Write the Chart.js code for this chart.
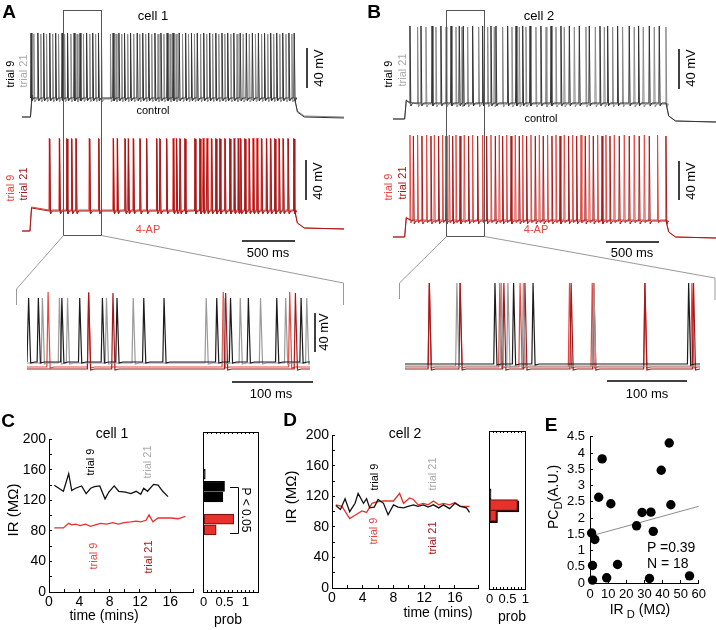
<!DOCTYPE html>
<html>
<head>
<meta charset="utf-8">
<script src="https://cdn.jsdelivr.net/npm/chart.js@4.4.1/dist/chart.umd.min.js"></script>
<style>
html, body { margin: 0; padding: 0; background: #fff; }
#fig { position: relative; width: 716px; height: 630px; overflow: hidden; font-family: "Liberation Sans", Arial, sans-serif; color: #000; }
#fig canvas { position: absolute; }
.t { position: absolute; white-space: nowrap; line-height: 1; transform: translate(-50%, -50%); }
.t.l { transform: translate(0, -50%); }
.t.r { transform: translate(-50%, -50%) rotate(-90deg); }
.t.r2 { transform: translate(-50%, -50%) rotate(90deg); }
sub { font-size: 0.8em; vertical-align: -0.35em; line-height: 0; }
#deco { position: absolute; left: 0; top: 0; }
</style>
</head>
<body>
<div id="fig"></div>
<script>
// spike times (ms) of the full sweeps, panels A and B
const ctrlA_t9 = [85, 150, 205, 262, 318, 378, 430, 492, 548, 610, 668, 722, 860, 915, 968, 1025, 1088, 1140, 1196, 1255, 1312, 1370, 1426, 1484, 1545, 1600, 1655, 1716, 1772, 1830, 1888, 1942, 2000, 2060, 2118, 2175, 2232, 2290, 2348, 2405, 2462, 2520, 2570];
const ctrlA_t21 = [112, 178, 232, 290, 345, 402, 462, 520, 580, 640, 695, 750, 835, 888, 942, 998, 1055, 1112, 1168, 1225, 1284, 1340, 1398, 1455, 1515, 1572, 1628, 1686, 1744, 1800, 1858, 1915, 1972, 2030, 2088, 2146, 2204, 2262, 2320, 2376, 2434, 2492, 2548];
const apA_t9 = [258, 352, 421, 468, 509, 635, 723, 861, 899, 971, 1003, 1050, 1113, 1175, 1270, 1301, 1364, 1427, 1458, 1490, 1537, 1631, 1678, 1710, 1747, 1788, 1829, 1867, 1914, 1961, 2002, 2040, 2062, 2103, 2143, 2181, 2219, 2260, 2307, 2345, 2385, 2426, 2464, 2511, 2565];
const apA_t21 = [262, 355, 425, 470, 512, 640, 726, 864, 902, 975, 1006, 1054, 1116, 1178, 1273, 1305, 1367, 1430, 1462, 1494, 1540, 1634, 1681, 1714, 1750, 1792, 1832, 1870, 1918, 1964, 2006, 2044, 2066, 2106, 2147, 2185, 2222, 2264, 2310, 2349, 2389, 2430, 2468, 2514, 2568];
const ctrlB_t9 = [160, 264, 368, 452, 547, 625, 663, 751, 845, 924, 971, 1081, 1160, 1223, 1292, 1395, 1490, 1584, 1663, 1757, 1851, 1952, 2024, 2118, 2228, 2316, 2417, 2511];
const ctrlB_t21 = [232, 311, 405, 500, 594, 650, 704, 808, 893, 955, 1034, 1122, 1191, 1254, 1348, 1443, 1537, 1615, 1710, 1820, 1908, 1993, 2071, 2165, 2275, 2360, 2464, 2574];
const apB_t9 = [160, 232, 317, 390, 468, 531, 594, 672, 751, 845, 924, 1002, 1072, 1153, 1223, 1301, 1380, 1458, 1537, 1615, 1694, 1773, 1851, 1930, 2008, 2087, 2181, 2275, 2370, 2495];
const apB_t21 = [192, 273, 358, 430, 500, 563, 632, 713, 798, 883, 965, 1034, 1113, 1191, 1260, 1342, 1417, 1499, 1575, 1656, 1732, 1813, 1889, 1971, 2046, 2134, 2228, 2322, 2417, 2574];

// spike times (ms) inside the expanded windows
const zoomA_t9 = [2, 14, 43, 65, 93, 111, 144, 169, 234, 251, 273, 308, 338];
const zoomA_t21 = [19, 40, 50, 98, 131, 221, 243, 263, 288, 319, 345];
const zoomA_ap9 = [26, 76, 242, 324];
const zoomA_ap21 = [76, 106, 245, 331];
const zoomB_t9 = [111, 134, 158, 350];
const zoomB_t21 = [64, 119, 127, 146, 233];
const zoomB_ap9 = [30, 68, 117, 142, 203, 231, 296, 354];
const zoomB_ap21 = [30, 68, 122, 148, 205, 233, 296, 356];

// panel C: input resistance vs time, cell 1
const cTimeCtrl = [0.7, 1.9, 2.6, 3.0, 3.5, 4.3, 4.9, 5.5, 6.0, 6.7, 7.4, 7.9, 8.6, 9.2, 10.1, 10.8, 11.5, 12.1, 12.5, 13.0, 13.8, 14.4, 15.0, 15.7];
const cIRCtrl = [140, 132, 155, 133, 136, 139, 129, 136, 138, 139, 122, 131, 139, 132, 131, 129, 132, 128, 136, 132, 141, 140, 132, 125];
const cTimeAP = [0.7, 1.9, 2.6, 3.0, 3.5, 4.1, 4.8, 5.5, 6.1, 6.8, 7.6, 8.4, 9.2, 9.9, 10.8, 11.5, 12.1, 12.8, 13.2, 13.7, 14.4, 15.2, 16.1, 17.0, 18.0];
const cIRAP = [84, 84, 90, 88, 89, 87, 89, 86, 88, 90, 89, 91, 89, 91, 92, 93, 92, 94, 101, 92, 97, 97, 97, 96, 99];
const cHistCtrlIR = [155, 138, 123];
const cHistCtrlProb = [0.04, 0.5, 0.46];
const cHistAPIR = [92, 77];
const cHistAPProb = [0.72, 0.3];

// panel D: input resistance vs time, cell 2
const dTimeCtrl = [0.5, 1.1, 1.7, 2.3, 3.0, 3.4, 4.1, 4.5, 4.9, 5.5, 6.0, 6.7, 7.3, 8.0, 8.6, 9.3, 9.9, 10.6, 11.2, 11.9, 12.5, 13.2, 13.9, 14.5, 15.3, 16.0, 16.7, 17.5, 17.9];
const dIRCtrl = [108, 103, 117, 100, 111, 124, 111, 117, 105, 106, 116, 111, 96, 109, 106, 105, 107, 109, 107, 109, 106, 109, 105, 109, 104, 111, 107, 105, 99];
const dTimeAP = [0.5, 1.3, 2.3, 3.1, 3.9, 4.5, 5.2, 5.8, 6.7, 7.5, 8.0, 8.8, 9.3, 10.1, 10.6, 11.2, 11.9, 12.5, 13.2, 13.9, 14.5, 15.3, 16.0, 16.7, 17.5, 17.9];
const dIRAP = [109, 107, 91, 96, 101, 99, 111, 113, 114, 114, 114, 124, 111, 118, 116, 109, 111, 109, 114, 109, 111, 109, 112, 107, 107, 107];
const dHistCtrlIR = [123, 106, 91];
const dHistCtrlProb = [0.04, 0.82, 0.22];
const dHistAPIR = [108, 93];
const dHistAPProb = [0.78, 0.19];

// panel E: PC change vs IR change
const eIR = [0.9, 2.65, 1.4, 1.4, 4.8, 6.7, 9.2, 11.5, 15.2, 25.7, 28.7, 33.6, 34.9, 32.8, 39.3, 43.7, 44.6, 54.9];
const ePC = [1.54, 1.34, 0.54, 0.09, 2.64, 3.82, 0.16, 2.44, 0.57, 1.76, 2.17, 2.18, 1.59, 0.14, 3.47, 4.31, 2.41, 0.22];
const eFitX = [0, 60];
const eFitY = [1.44, 2.36];

const BLACK = '#1c1c1c', GRAY = '#9a9a9a', RED9 = '#e8463f', RED21 = '#a5191b';

Chart.defaults.font.family = '"Liberation Sans", Arial, sans-serif';
Chart.defaults.color = '#000';

const fig = document.getElementById('fig');

function cvs(l, t, w, h) {
  const c = document.createElement('canvas');
  c.width = w; c.height = h;
  c.style.left = l + 'px'; c.style.top = t + 'px';
  fig.appendChild(c);
  return c;
}

function base(o) {
  return Object.assign({
    responsive: false, animation: false, events: [], devicePixelRatio: 1,
    plugins: { legend: { display: false }, tooltip: { enabled: false } }
  }, o);
}

const pts = (xs, ys) => xs.map((x, i) => ({ x: x, y: ys[i] }));

// a sweep: resting level, current step, and a spike at every listed time
function sweep(spikes, s) {
  const p = [];
  if (s.onset !== undefined) {
    p.push({ x: 0, y: s.pre }, { x: s.onset, y: s.pre }, { x: s.onset + 15, y: s.rest + 3 });
  } else {
    p.push({ x: 0, y: s.rest });
  }
  spikes.forEach(t => {
    p.push({ x: t - s.rise, y: s.rest }, { x: t, y: s.peak },
           { x: t + s.fall, y: s.rest - s.ahp }, { x: t + s.fall * 3, y: s.rest });
  });
  if (s.offset !== undefined) {
    p.push({ x: s.offset, y: s.rest }, { x: s.offset + 25, y: s.after + 6 },
           { x: s.offset + 90, y: s.after + 1 }, { x: s.end, y: s.after });
  } else {
    p.push({ x: s.end, y: s.rest });
  }
  return p;
}

function traceChart(l, t, w, h, xmax, ymin, ymax, sets) {
  new Chart(cvs(l, t, w, h), {
    type: 'line',
    data: { datasets: sets.map(d => ({ data: d[0], borderColor: d[1], borderWidth: d[2], pointRadius: 0, tension: 0, clip: false })) },
    options: base({
      layout: { padding: 0 },
      scales: {
        x: { type: 'linear', display: false, min: 0, max: xmax },
        y: { type: 'linear', display: false, min: ymin, max: ymax }
      }
    })
  });
}

const full = { rise: 4, fall: 8, ahp: 3, end: 3046 };
const zoom = { rise: 1.5, fall: 2.5, ahp: 1 };

// A, full sweeps
traceChart(22, 27, 322, 100, 3040, -80, 20, [
  [sweep(ctrlA_t9, Object.assign({ pre: -70, onset: 80, rest: -51, peak: 14, offset: 2575, after: -71 }, full)), '#333', 1],
  [sweep(ctrlA_t21, Object.assign({ pre: -70, onset: 80, rest: -52, peak: 13, offset: 2575, after: -70 }, full)), '#8a8a8a', 1]
]);
traceChart(22, 131, 322, 105, 3040, -75, 30, [
  [sweep(apA_t21, Object.assign({ pre: -70, onset: 75, rest: -50, peak: 22, offset: 2575, after: -68 }, full)), RED21, 1],
  [sweep(apA_t9, Object.assign({ pre: -70, onset: 75, rest: -49, peak: 23, offset: 2575, after: -68 }, full)), RED9, 1]
]);
// B, full sweeps
traceChart(393, 19, 323, 105, 3046, -75, 30, [
  [sweep(ctrlB_t9, Object.assign({ pre: -70, onset: 110, rest: -54, peak: 23, offset: 2575, after: -73 }, full)), '#333', 1],
  [sweep(ctrlB_t21, Object.assign({ pre: -70, onset: 110, rest: -55, peak: 22, offset: 2575, after: -73 }, full)), '#8a8a8a', 1]
]);
traceChart(393, 127, 323, 115, 3046, -75, 40, [
  [sweep(apB_t21, Object.assign({ pre: -70, onset: 110, rest: -54, peak: 31, offset: 2575, after: -71 }, full)), RED21, 1],
  [sweep(apB_t9, Object.assign({ pre: -70, onset: 110, rest: -53, peak: 32, offset: 2575, after: -71 }, full)), RED9, 1]
]);
// expanded windows
traceChart(27, 292, 283, 85, 349, -65, 20, [
  [sweep(zoomA_t9, Object.assign({ rest: -50, peak: 14, end: 349 }, zoom)), BLACK, 1.2],
  [sweep(zoomA_t21, Object.assign({ rest: -51, peak: 14, end: 349 }, zoom)), GRAY, 1.2],
  [sweep(zoomA_ap21, Object.assign({ rest: -57, peak: 19, end: 349 }, zoom)), RED21, 1.2],
  [sweep(zoomA_ap9, Object.assign({ rest: -55, peak: 20, end: 349 }, zoom)), RED9, 1.2]
]);
traceChart(405, 277, 295, 100, 364, -65, 35, [
  [sweep(zoomB_t9, Object.assign({ rest: -52, peak: 29, end: 364 }, zoom)), BLACK, 1.2],
  [sweep(zoomB_t21, Object.assign({ rest: -54, peak: 29, end: 364 }, zoom)), GRAY, 1.2],
  [sweep(zoomB_ap21, Object.assign({ rest: -57, peak: 29, end: 364 }, zoom)), RED21, 1.2],
  [sweep(zoomB_ap9, Object.assign({ rest: -55, peak: 29, end: 364 }, zoom)), RED9, 1.2]
]);

// framed axes with inward tick marks
function axis(pos, min, max, step, pad, size, show, fit, labels) {
  return {
    type: 'linear', position: pos, min: min, max: max,
    border: { display: true, color: '#000', width: 1 },
    grid: { display: true, drawOnChartArea: false, drawTicks: true, tickLength: -3, color: '#000', lineWidth: 1 },
    ticks: { display: labels !== false, stepSize: step, autoSkip: false, maxRotation: 0, padding: pad, color: '#000', font: { size: size }, callback: show },
    afterFit: fit
  };
}
const every = n => v => (Math.abs(v / n - Math.round(v / n)) < 1e-6 ? String(+v.toFixed(2)) : '');

function irChart(l, t, w, h, yw, ctrl, ap) {
  new Chart(cvs(l, t, w, h), {
    type: 'line',
    data: { datasets: [
      { data: ctrl, borderColor: '#111', borderWidth: 1.3, pointRadius: 0, tension: 0 },
      { data: ap, borderColor: '#e8312d', borderWidth: 1.3, pointRadius: 0, tension: 0 }
    ] },
    options: base({
      layout: { padding: { left: 0, right: 7, top: 12, bottom: 0 } },
      scales: {
        x: axis('bottom', 0, 19, 2, 5, 14, every(4), s => { s.height = 28; }),
        y: axis('left', 0, 200, 20, 6, 14, every(40), s => { s.width = yw; })
      }
    })
  });
}
irChart(0, 425, 200, 195, 49, pts(cTimeCtrl, cIRCtrl), pts(cTimeAP, cIRAP));
irChart(280, 421, 205, 195, 52, pts(dTimeCtrl, dIRCtrl), pts(dTimeAP, dIRAP));

function histChart(l, t, w, h, xmax, ymax, ctrl, ap, thick) {
  const edge = (pos, fit) => {
    const a = axis(pos, 0, ymax, 20, 0, 10, () => '', fit, false);
    a.grid.display = false;
    return a;
  };
  const top = axis('top', 0, xmax, 0.1, 0, 13, () => '', s => { s.height = 0; }, false);
  top.grid.tickLength = -2;
  const bottom = axis('bottom', 0, xmax, 0.1, 5, 13, every(0.5), s => { s.height = 20; });
  bottom.grid.tickLength = -2;
  new Chart(cvs(l, t, w, h), {
    type: 'bar',
    data: { datasets: [
      { data: ap, backgroundColor: '#e8312d', borderColor: '#7d1414', borderWidth: 1.2, borderSkipped: false, barThickness: thick, grouped: false, xAxisID: 'x', yAxisID: 'y' },
      { data: ctrl, backgroundColor: '#000', borderColor: '#000', borderWidth: 1.2, borderSkipped: false, barThickness: thick, grouped: false, xAxisID: 'x', yAxisID: 'y' }
    ] },
    options: base({
      indexAxis: 'y',
      layout: { padding: { left: 8, right: 7, top: 7, bottom: 0 } },
      scales: {
        x: bottom,
        x2: top,
        y: edge('left', s => { s.width = 0; }),
        y2: edge('right', s => { s.width = 0; })
      }
    })
  });
}
histChart(195, 425, 70, 187, 1.3, 204, pts(cHistCtrlProb, cHistCtrlIR), pts(cHistAPProb, cHistAPIR), 10);
histChart(481, 424, 53, 185, 1, 202, pts(dHistCtrlProb, dHistCtrlIR), pts(dHistAPProb, dHistAPIR), 11);

// E
new Chart(cvs(550, 421, 163, 184), {
  type: 'scatter',
  data: { datasets: [
    { data: pts(eIR, ePC), backgroundColor: '#000', borderWidth: 0, pointRadius: 4.7, clip: false },
    { type: 'line', data: pts(eFitX, eFitY), borderColor: '#8c8c8c', borderWidth: 1, pointRadius: 0, showLine: true }
  ] },
  options: base({
    layout: { padding: { left: 0, right: 10, top: 12, bottom: 0 } },
    scales: {
      x: axis('bottom', 0, 60, 10, 7, 13, every(10), s => { s.height = 22; }),
      y: axis('left', 0, 4.5, 0.5, 8, 13, every(0.5), s => { s.width = 40; })
    }
  })
});

// frames, connectors, scale bars
const svg = `<svg id="deco" width="716" height="630" xmlns="http://www.w3.org/2000/svg" fill="none">
<g stroke="#555" stroke-width="1">
<rect x="63.5" y="10.5" width="38" height="225"/>
<rect x="446.5" y="10.5" width="38" height="226"/>
</g>
<g stroke="#999" stroke-width="1">
<polyline points="63.5,235.5 16.5,289 16.5,305"/>
<polyline points="101.5,235.5 343.5,283 343.5,305"/>
<polyline points="446.5,236.5 399.5,283 399.5,299"/>
<polyline points="484.5,236.5 715,278 715,300"/>
</g>
<g stroke="#000" stroke-width="1.5">
<line x1="307" y1="48" x2="307" y2="88"/>
<line x1="306" y1="160" x2="306" y2="200"/>
<line x1="242" y1="241" x2="295" y2="241"/>
<line x1="679" y1="49" x2="679" y2="89"/>
<line x1="679" y1="161" x2="679" y2="200"/>
<line x1="606" y1="242" x2="659" y2="242"/>
<line x1="315" y1="313" x2="315" y2="352"/>
<line x1="232" y1="382" x2="313" y2="382"/>
<line x1="607" y1="381" x2="687" y2="381"/>
</g>
<polyline stroke="#000" stroke-width="1" points="230,487.5 238.5,487.5 238.5,533.5 230,533.5"/>
</svg>`;
fig.insertAdjacentHTML('beforeend', svg);

function label(html, x, y, size, opt) {
  opt = opt || {};
  const d = document.createElement('div');
  d.className = 't' + (opt.cls ? ' ' + opt.cls : '');
  d.innerHTML = html;
  d.style.left = x + 'px'; d.style.top = y + 'px';
  d.style.fontSize = size + 'px';
  if (opt.color) d.style.color = opt.color;
  if (opt.bold) d.style.fontWeight = 'bold';
  fig.appendChild(d);
}
const LG = '#aaaaaa';

label('A', 9, 11, 19, { bold: true });
label('B', 374, 11, 19, { bold: true });
label('C', 8, 420, 19, { bold: true });
label('D', 290, 419, 19, { bold: true });
label('E', 551, 424, 19, { bold: true });

label('cell 1', 153, 15, 13);
label('cell 2', 539, 15, 13);
label('control', 153, 110, 11);
label('control', 541, 118, 11);
label('4-AP', 148, 229, 11, { color: RED9 });
label('4-AP', 536, 229, 11, { color: RED9 });

label('trial 9', 10, 74, 11, { cls: 'r' });
label('trial 21', 23, 71, 11, { cls: 'r', color: LG });
label('trial 9', 10, 188, 11, { cls: 'r', color: RED9 });
label('trial 21', 23, 184, 11, { cls: 'r', color: RED21 });
label('trial 9', 388, 74, 11, { cls: 'r' });
label('trial 21', 402, 70, 11, { cls: 'r', color: LG });
label('trial 9', 388, 187, 11, { cls: 'r', color: RED9 });
label('trial 21', 402, 183, 11, { cls: 'r', color: RED21 });

label('40 mV', 318, 68, 13, { cls: 'r' });
label('40 mV', 317, 181, 13, { cls: 'r' });
label('40 mV', 690, 68, 13, { cls: 'r' });
label('40 mV', 690, 181, 13, { cls: 'r' });
label('40 mV', 323, 332, 13, { cls: 'r' });
label('500 ms', 268, 252, 13);
label('500 ms', 632, 252, 13);
label('100 ms', 271, 393, 13);
label('100 ms', 647, 393, 13);

label('cell 1', 112, 433, 14);
label('trial 9', 90, 462, 11, { cls: 'r' });
label('trial 21', 147, 462, 11, { cls: 'r', color: LG });
label('trial 9', 93, 556, 11, { cls: 'r', color: RED9 });
label('trial 21', 148, 557, 11, { cls: 'r', color: RED21 });
label('IR (MΩ)', 12, 510, 15, { cls: 'r' });
label('time (mins)', 104, 615, 14);
label('prob', 228, 619, 14);
label('P &lt; 0.05', 246, 510, 12, { cls: 'r2' });

label('cell 2', 405, 433, 14);
label('trial 9', 374, 477, 11, { cls: 'r' });
label('trial 21', 432, 474, 11, { cls: 'r', color: LG });
label('trial 9', 373, 531, 11, { cls: 'r', color: RED9 });
label('trial 21', 432, 538, 11, { cls: 'r', color: RED21 });
label('IR (MΩ)', 290, 497, 15, { cls: 'r' });
label('time (mins)', 438, 612, 14);
label('prob', 512, 616, 14);

label('PC<sub>D</sub>(A.U.)', 553, 497, 14, { cls: 'r' });
label('IR<sub> D</sub> (MΩ)', 640, 609, 14);
label('P =0.39', 647, 547, 14, { cls: 'l' });
label('N = 18', 647, 563, 14, { cls: 'l' });
</script>
</body>
</html>
